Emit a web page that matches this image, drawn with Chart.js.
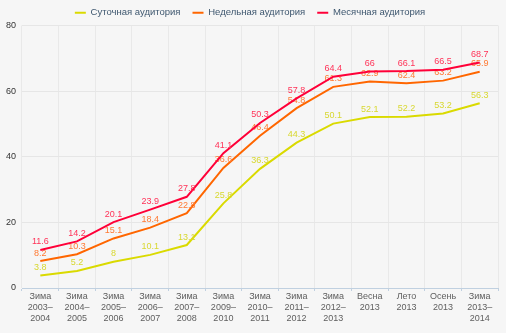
<!DOCTYPE html>
<html>
<head>
<meta charset="utf-8">
<script src="https://cdn.jsdelivr.net/npm/chart.js@4/dist/chart.umd.min.js"></script>
<style>
  html, body { margin: 0; background: #f6f6f6; }
</style>
</head>
<body>
<canvas id="grafico" width="506" height="333"></canvas>
<script>
// Аудитория по периодам: суточная, недельная, месячная
const periodos = [
  ["Зима", "2003–", "2004"], ["Зима", "2004–", "2005"], ["Зима", "2005–", "2006"],
  ["Зима", "2006–", "2007"], ["Зима", "2007–", "2008"], ["Зима", "2009–", "2010"],
  ["Зима", "2010–", "2011"], ["Зима", "2011–", "2012"], ["Зима", "2012–", "2013"],
  ["Весна", "2013"], ["Лето", "2013"], ["Осень", "2013"], ["Зима", "2013–", "2014"]
];
const sutochnaya = [3.8, 5.2, 8, 10.1, 13.1, 25.8, 36.3, 44.3, 50.1, 52.1, 52.2, 53.2, 56.3];
const nedelnaya = [8.2, 10.3, 15.1, 18.4, 22.8, 36.6, 46.4, 54.8, 61.3, 62.9, 62.4, 63.2, 65.9];
const mesyachnaya = [11.6, 14.2, 20.1, 23.9, 27.8, 41.1, 50.3, 57.8, 64.4, 66, 66.1, 66.5, 68.7];
const nombres = ["Суточная аудитория", "Недельная аудитория", "Месячная аудитория"];
const colores = ["#dada00", "#ff6600", "#ff0038"];
const coloresTexto = ["#d8d830", "#ff7a33", "#ff3358"];

const fuente = '"Liberation Sans", Arial, sans-serif';

const fondo = {
  id: "fondo",
  beforeDraw(chart) {
    const ctx = chart.ctx;
    ctx.save();
    ctx.fillStyle = "#f6f6f6";
    ctx.fillRect(0, 0, chart.width, chart.height);
    ctx.restore();
  }
};

// alto fijo de la leyenda y un poco más arriba
const leyendaFija = {
  id: "leyendaFija",
  beforeUpdate(chart) {
    const lg = chart.legend;
    if (lg && !lg._parcheada) {
      const fit = lg.fit.bind(lg);
      const draw = lg.draw.bind(lg);
      lg.fit = function () { fit(); this.height = 25.5; };
      lg.draw = function () {
        const ctx = chart.ctx;
        ctx.save();
        ctx.translate(1, -4);
        draw();
        ctx.restore();
      };
      lg._parcheada = true;
    }
  }
};

const etiquetas = {
  id: "etiquetas",
  afterDatasetDraw(chart, args) {
    const ds = chart.data.datasets[args.index];
    const ctx = chart.ctx;
    ctx.save();
    ctx.font = "9px " + fuente;
    ctx.fillStyle = coloresTexto[args.index];
    ctx.textAlign = "center";
    ctx.textBaseline = "middle";
    args.meta.data.forEach((p, i) => ctx.fillText(String(ds.data[i]), p.x, p.y - 8));
    ctx.restore();
  }
};

const series = [sutochnaya, nedelnaya, mesyachnaya].map((d, i) => ({
  label: nombres[i],
  data: d,
  borderColor: colores[i],
  backgroundColor: colores[i],
  borderWidth: 2,
  pointRadius: 0,
  fill: false,
  tension: 0,
  order: 3 - i
}));

new Chart(document.getElementById("grafico"), {
  type: "line",
  data: { labels: periodos, datasets: series },
  plugins: [fondo, leyendaFija, etiquetas],
  options: {
    responsive: false,
    animation: false,
    layout: { padding: { left: 0, right: 8, top: 0, bottom: 0 } },
    plugins: {
      tooltip: { enabled: false },
      legend: {
        position: "top",
        labels: {
          boxWidth: 11,
          boxHeight: 2,
          padding: 12,
          color: "#3e576f",
          font: { family: fuente, size: 9.5 },
          generateLabels: chart => Chart.defaults.plugins.legend.labels.generateLabels(chart)
            .map(l => Object.assign(l, { lineWidth: 0 })),
          sort: (a, b) => a.datasetIndex - b.datasetIndex
        }
      }
    },
    scales: {
      x: {
        offset: true,
        grid: { color: "#e9e9e9", tickColor: "#c0d0e0", tickLength: 3, offset: true },
        border: { color: "#c0d0e0" },
        ticks: {
          color: "#606060",
          padding: 0,
          maxRotation: 0,
          autoSkip: false,
          font: { family: fuente, size: 9, lineHeight: "11px" }
        },
        afterFit(scale) { scale.height = 45; }
      },
      y: {
        min: 0,
        max: 80,
        grid: {
          drawTicks: false,
          color: ctx => ctx.tick && ctx.tick.value === 0 ? "rgba(0,0,0,0)" : "#e6e6e6"
        },
        border: { display: false },
        ticks: {
          stepSize: 20,
          padding: 6,
          color: "#333333",
          font: { family: fuente, size: 9 }
        },
        afterFit(scale) { scale.width = 22; }
      }
    }
  }
});
</script>
</body>
</html>
